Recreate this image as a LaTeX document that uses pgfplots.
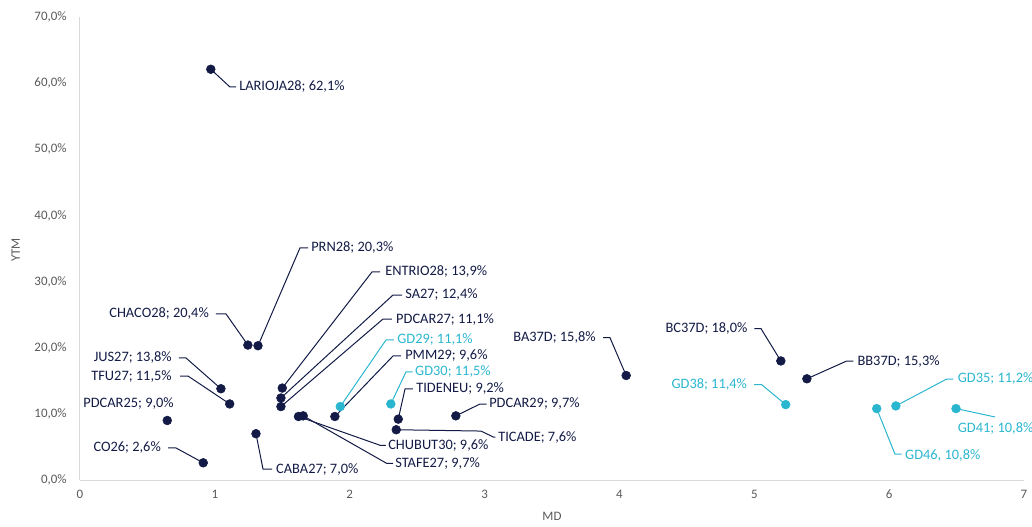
\documentclass[border=0pt]{standalone}
\usepackage{pgfplots}
\pgfplotsset{compat=1.18}
\usepackage{pgfplotstable}
\usepackage{fontspec}
\setmainfont{Carlito}
\definecolor{navy}{HTML}{121A45}
\definecolor{cyanc}{HTML}{2BB6D0}
\definecolor{tickgray}{HTML}{595959}
\definecolor{axgray}{HTML}{D9D9D9}
\newcommand{\lbl}{\fontsize{10.8}{12}\selectfont}

\pgfplotstableread{
x y
0.970 62.1
1.245 20.4
1.320 20.3
1.045 13.8
1.110 11.5
0.647 9.0
0.914 2.6
1.305 7.0
1.500 13.9
1.490 12.4
1.490 11.1
1.890 9.6
1.620 9.6
1.655 9.7
2.360 9.2
2.345 7.6
2.787 9.7
4.050 15.8
5.197 18.0
5.390 15.3
}\navydata

\pgfplotstableread{
x y
1.930 11.1
2.305 11.5
5.233 11.4
5.908 10.8
6.050 11.2
6.496 10.8
}\cyandata

\begin{document}
\begin{tikzpicture}
\begin{axis}[
  scale only axis, width=708pt, height=347.25pt,
  xmin=0, xmax=7, ymin=0, ymax=70,
  xtick={0,1,...,7}, ytick={0,10,...,70},
  axis x line*=bottom, axis y line*=left,
  axis line style={axgray, line width=0.75pt},
  major tick length=0pt,
  tick style={draw=none},
  /pgf/number format/assume math mode=true,
  ticklabel style={font=\fontsize{9.7}{11}\selectfont, text=tickgray},
  xticklabel style={yshift=-4pt},
  yticklabel style={xshift=-6.5pt},
  yticklabel={\pgfmathprintnumber[fixed,fixed zerofill,precision=1,use comma]{\tick}\%},
  xlabel={MD}, ylabel={YTM},
  label style={font=\fontsize{9.7}{11}\selectfont, text=tickgray},
  xlabel style={at={(axis description cs:0.5,-0.079)}, anchor=center},
  ylabel style={at={(axis description cs:-0.068,0.497)}, anchor=center},
  clip=false,
]
% leader lines navy
\begin{scope}[navy, line width=0.75pt]
\draw (axis cs:0.97,62.1) -- (axis cs:1.112,59.42) -- (axis cs:1.157,59.42);
\draw (axis cs:1.32,20.3) -- (axis cs:1.631,35.08) -- (axis cs:1.691,35.08);
\draw (axis cs:1.245,20.4) -- (axis cs:1.083,25.1) -- (axis cs:1.008,25.1);
\draw (axis cs:1.045,13.8) -- (axis cs:0.786,18.45) -- (axis cs:0.734,18.45);
\draw (axis cs:1.11,11.5) -- (axis cs:0.801,15.72) -- (axis cs:0.742,15.72);
\draw (axis cs:0.914,2.6) -- (axis cs:0.712,4.84) -- (axis cs:0.653,4.84);
\draw (axis cs:1.305,7.0) -- (axis cs:1.357,1.66) -- (axis cs:1.424,1.66);
\draw (axis cs:1.50,13.9) -- (axis cs:2.165,31.45) -- (axis cs:2.225,31.45);
\draw (axis cs:1.49,12.4) -- (axis cs:2.321,27.97) -- (axis cs:2.388,27.97);
\draw (axis cs:1.49,11.1) -- (axis cs:2.247,24.34) -- (axis cs:2.313,24.34);
\draw (axis cs:1.89,9.6) -- (axis cs:2.321,18.75) -- (axis cs:2.380,18.75);
\draw (axis cs:2.36,9.2) -- (axis cs:2.41,13.76) -- (axis cs:2.469,13.76);
\draw (axis cs:2.787,9.7) -- (axis cs:2.966,11.49) -- (axis cs:3.016,11.49);
\draw (axis cs:2.345,7.6) -- (axis cs:2.973,7.4) -- (axis cs:3.065,6.5) -- (axis cs:3.08,6.5);
\draw (axis cs:1.62,9.6) -- (axis cs:2.225,5.25) -- (axis cs:2.269,5.25);
\draw (axis cs:1.655,9.7) -- (axis cs:2.274,2.52) -- (axis cs:2.321,2.52);
\draw (axis cs:4.05,15.8) -- (axis cs:3.930,21.51) -- (axis cs:3.880,21.51);
\draw (axis cs:5.197,18.0) -- (axis cs:5.050,22.88) -- (axis cs:5.000,22.88);
\draw (axis cs:5.39,15.3) -- (axis cs:5.685,17.99) -- (axis cs:5.734,17.99);
\end{scope}
\begin{scope}[cyanc, line width=0.75pt]
\draw (axis cs:1.93,11.1) -- (axis cs:2.269,21.17) -- (axis cs:2.328,21.17);
\draw (axis cs:2.305,11.5) -- (axis cs:2.417,16.33) -- (axis cs:2.467,16.33);
\draw (axis cs:5.233,11.4) -- (axis cs:5.055,14.41) -- (axis cs:4.998,14.41);
\draw (axis cs:6.05,11.2) -- (axis cs:6.427,15.27) -- (axis cs:6.476,15.27);
\draw (axis cs:6.496,10.8) -- (axis cs:6.785,9.53);
\draw (axis cs:5.908,10.8) -- (axis cs:6.043,3.93) -- (axis cs:6.093,3.93);
\end{scope}
% labels
\begin{scope}[every node/.style={font=\lbl, inner sep=0pt, text=navy}]
\node[anchor=west] at (axis cs:1.179,59.42) {LARIOJA28; 62,1\%};
\node[anchor=west] at (axis cs:1.713,35.08) {PRN28; 20,3\%};
\node[anchor=east] at (axis cs:0.957,25.1) {CHACO28; 20,4\%};
\node[anchor=east] at (axis cs:0.682,18.45) {JUS27; 13,8\%};
\node[anchor=east] at (axis cs:0.682,15.72) {TFU27; 11,5\%};
\node[anchor=east] at (axis cs:0.697,11.49) {PDCAR25; 9,0\%};
\node[anchor=east] at (axis cs:0.601,4.84) {CO26; 2,6\%};
\node[anchor=west] at (axis cs:1.453,1.66) {CABA27; 7,0\%};
\node[anchor=west] at (axis cs:2.262,31.45) {ENTRIO28; 13,9\%};
\node[anchor=west] at (axis cs:2.410,27.97) {SA27; 12,4\%};
\node[anchor=west] at (axis cs:2.343,24.34) {PDCAR27; 11,1\%};
\node[anchor=west] at (axis cs:2.410,18.75) {PMM29; 9,6\%};
\node[anchor=west] at (axis cs:2.492,13.76) {TIDENEU; 9,2\%};
\node[anchor=west] at (axis cs:3.033,11.49) {PDCAR29; 9,7\%};
\node[anchor=west] at (axis cs:3.100,6.50) {TICADE; 7,6\%};
\node[anchor=west] at (axis cs:2.284,5.25) {CHUBUT30; 9,6\%};
\node[anchor=west] at (axis cs:2.336,2.52) {STAFE27; 9,7\%};
\node[anchor=east] at (axis cs:3.826,21.51) {BA37D; 15,8\%};
\node[anchor=east] at (axis cs:4.951,22.88) {BC37D; 18,0\%};
\node[anchor=west] at (axis cs:5.764,17.99) {BB37D; 15,3\%};
\node[anchor=west, text=cyanc] at (axis cs:2.351,21.17) {GD29; 11,1\%};
\node[anchor=west, text=cyanc] at (axis cs:2.484,16.33) {GD30; 11,5\%};
\node[anchor=east, text=cyanc] at (axis cs:4.948,14.41) {GD38; 11,4\%};
\node[anchor=west, text=cyanc] at (axis cs:6.508,15.27) {GD35; 11,2\%};
\node[anchor=west, text=cyanc] at (axis cs:6.508,7.82) {GD41; 10,8\%};
\node[anchor=west, text=cyanc] at (axis cs:6.117,3.67) {GD46, 10,8\%};
\end{scope}
\addplot[only marks, mark=*, mark size=3.3pt, navy, mark options={fill=navy, draw=navy}] table {\navydata};
\addplot[only marks, mark=*, mark size=3.3pt, cyanc, mark options={fill=cyanc, draw=cyanc}] table {\cyandata};
\end{axis}
\pgfresetboundingbox
\path[use as bounding box] (-60pt,-34.5pt) rectangle (714pt,360pt);
\end{tikzpicture}
\end{document}
